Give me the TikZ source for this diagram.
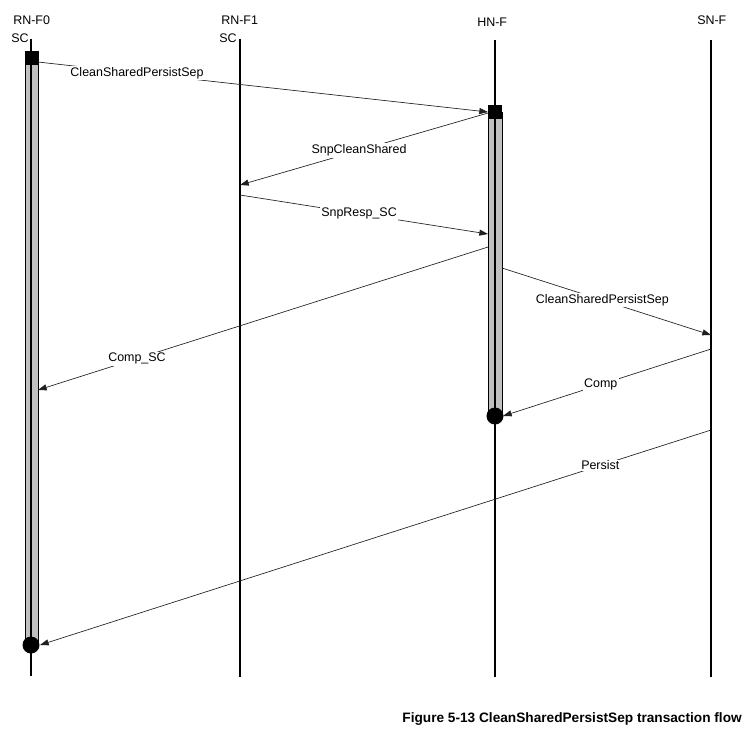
\documentclass[tikz,border=0pt]{standalone}
\usepackage{fontspec}
\setmainfont{Liberation Sans}
\usetikzlibrary{arrows.meta}
\definecolor{bar}{HTML}{C0C0C0}
\definecolor{wire}{HTML}{202020}

\begin{document}
\begin{tikzpicture}[
  x=0.0265cm, y=-0.0265cm,
  font=\fontsize{9.4}{11}\selectfont,
  head/.style={anchor=west,inner sep=0pt},
  life/.style={draw=black,line width=1.4pt},
  act/.style={draw=black,fill=bar,line width=0.7pt},
  msg/.style={-{Triangle[length=2.3mm,width=1.6mm]},draw=wire,line width=0.5pt},
  lbl/.style={fill=white,inner sep=1pt},
]
\useasboundingbox (0,0) rectangle (748,741);

% --- headers ---------------------------------------------------------------
\node[head] (f0)  at (13,20)  {RN-F0};
\node[head] (f0s) at (11,38)  {SC};
\node[head] (f1)  at (221,20) {RN-F1};
\node[head] (f1s) at (219,38) {SC};
\node[head] (hn)  at (477,22) {HN-F};
\node[head] (sn)  at (697,20) {SN-F};

% --- lifeline ends ---------------------------------------------------------
\coordinate (f0top) at (31,39);  \coordinate (f0bot) at (31,676);
\coordinate (f1top) at (240,39); \coordinate (f1bot) at (240,677);
\coordinate (hntop) at (495,40); \coordinate (hnbot) at (495,677);
\coordinate (sntop) at (711,40); \coordinate (snbot) at (711,677);

% --- activation bars -------------------------------------------------------
\draw[act] (25,58) rectangle (38,645);
\draw[act] (488,112) rectangle (502,416);

\draw[life] (f0top) -- (f0bot);
\draw[life] (f1top) -- (f1bot);
\draw[life] (hntop) -- (hnbot);
\draw[life] (sntop) -- (snbot);

\fill (24.5,51) rectangle (38.5,65);
\fill (488,105) rectangle (502,119);
\fill (31,645) circle (8.5);
\fill (495,416) circle (8.5);

% --- message ends ----------------------------------------------------------
\coordinate (m1a) at (38,62);   \coordinate (m1b) at (488,112);
\coordinate (m2a) at (488,113); \coordinate (m2b) at (240,185);
\coordinate (m3a) at (240,195); \coordinate (m3b) at (488,234);
\coordinate (m4a) at (488,247); \coordinate (m4b) at (38,390);
\coordinate (m5a) at (502,268); \coordinate (m5b) at (711,335);
\coordinate (m6a) at (711,349); \coordinate (m6b) at (503,416);
\coordinate (m7a) at (711,430); \coordinate (m7b) at (40,645);

% --- messages --------------------------------------------------------------
\draw[msg] (m1a) -- node[lbl,pos=0.22]{CleanSharedPersistSep} (m1b);
\draw[msg] (m2a) -- node[lbl,pos=0.52]{SnpCleanShared} (m2b);
\draw[msg] (m3a) -- node[lbl,pos=0.48]{SnpResp\_SC} (m3b);
\draw[msg] (m4a) -- node[lbl,pos=0.78]{Comp\_SC} (m4b);
\draw[msg] (m5a) -- node[lbl,pos=0.48]{CleanSharedPersistSep} (m5b);
\draw[msg] (m6a) -- node[lbl,pos=0.53]{Comp} (m6b);
\draw[msg] (m7a) -- node[lbl,pos=0.165]{Persist} (m7b);

% --- caption ---------------------------------------------------------------
\node[anchor=east,inner sep=0pt,font=\fontsize{10.3}{12}\selectfont\bfseries]
  (cap) at (742,719) {Figure 5-13 CleanSharedPersistSep transaction flow};
\end{tikzpicture}
\end{document}
